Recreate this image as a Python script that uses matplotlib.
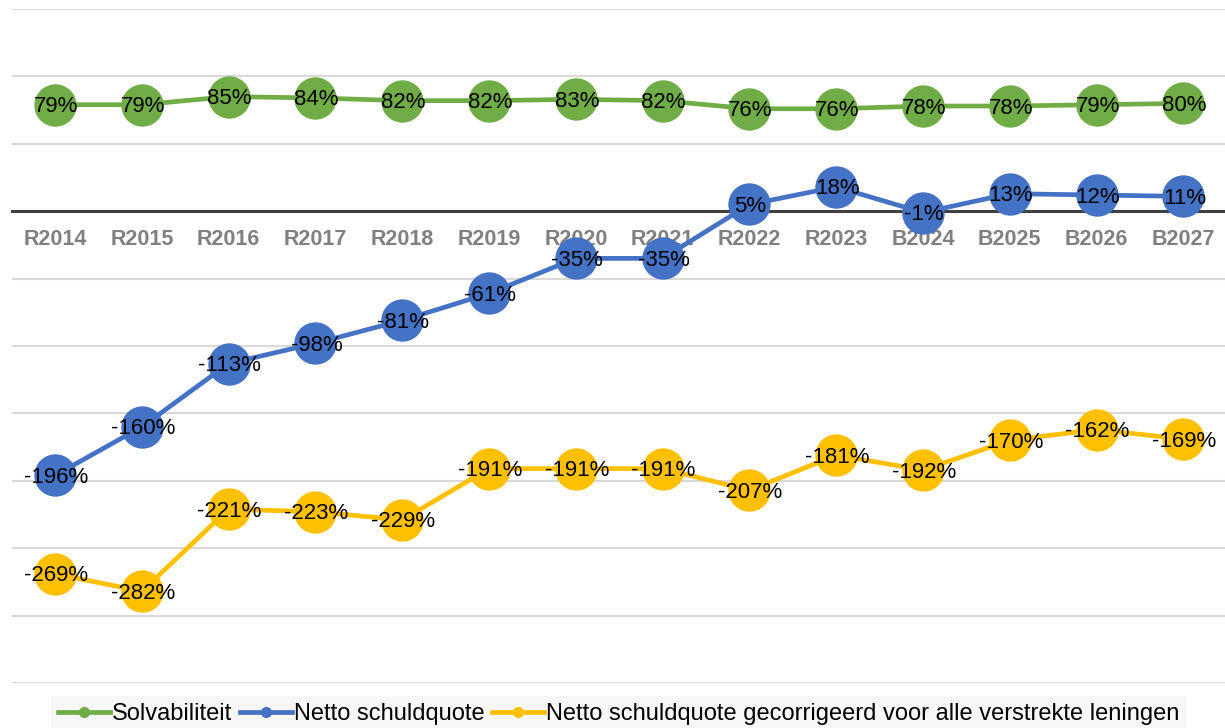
import matplotlib
matplotlib.use("Agg")
import matplotlib.pyplot as plt
import matplotlib.transforms as mtransforms
import numpy as np

plt.rcParams['font.family'] = ['Liberation Sans', 'DejaVu Sans']

categories = ["R2014", "R2015", "R2016", "R2017", "R2018", "R2019", "R2020",
              "R2021", "R2022", "R2023", "B2024", "B2025", "B2026", "B2027"]
solvabiliteit = [79, 79, 85, 84, 82, 82, 83, 82, 76, 76, 78, 78, 79, 80]
netto_schuldquote = [-196, -160, -113, -98, -81, -61, -35, -35, 5, 18, -1, 13, 12, 11]
netto_gecorrigeerd = [-269, -282, -221, -223, -229, -191, -191, -191, -207, -181, -192, -170, -162, -169]

series = [
    ("Solvabiliteit", solvabiliteit, "#70AD47"),
    ("Netto schuldquote", netto_schuldquote, "#4472C4"),
    ("Netto schuldquote gecorrigeerd voor alle verstrekte leningen", netto_gecorrigeerd, "#FFC000"),
]

fig = plt.figure(figsize=(12.25, 7.28), dpi=100)
ax = fig.add_axes([0.0095, 1 - 683 / 728, 0.992, (683 - 9) / 728])
x = np.arange(len(categories))

label_shift = mtransforms.offset_copy(ax.transData, fig=fig, x=1, y=-2, units='dots')

handles = []
for name, vals, col in series:
    ax.plot(x, vals, color=col, lw=3.4, zorder=3, solid_capstyle='round')
    ax.plot(x, vals, 'o', color=col, ms=30.5, zorder=4, markeredgewidth=0)
    h, = ax.plot([], [], color=col, lw=3.4, marker='o', ms=7, label=name)
    handles.append(h)
    for xi, v in zip(x, vals):
        ax.text(xi, v, f"{v}%", ha='center', va='center', fontsize=16,
                color='black', zorder=5, transform=label_shift)

ax.set_xlim(-0.5, len(categories) - 0.5)
ax.set_ylim(-350, 150)
ax.set_yticks(np.arange(-350, 151, 50))
ax.yaxis.grid(True, color='#d9d9d9', lw=1.5)
ax.tick_params(axis='y', length=0, labelleft=False)
ax.set_axisbelow(True)
for s in ['left', 'right', 'top']:
    ax.spines[s].set_visible(False)
ax.spines['bottom'].set_position(('data', 0))
ax.spines['bottom'].set_color('#404040')
ax.spines['bottom'].set_linewidth(2.2)
ax.spines['bottom'].set_zorder(1)
ax.set_xticks(x)
ax.set_xticklabels(categories, fontsize=15.5, fontweight='bold', color='#808080')
ax.tick_params(axis='x', length=0, pad=13)

leg = fig.legend(handles=handles, loc='lower center', bbox_to_anchor=(0.505, -0.022),
                 ncol=3, frameon=True, fontsize=17, handlelength=2.2,
                 handletextpad=0.1, columnspacing=0.3, borderpad=0.3,
                 fancybox=False)
leg.get_frame().set_facecolor('#f5f5f5')
leg.get_frame().set_edgecolor('none')

fig.savefig("out.png", dpi=100)
